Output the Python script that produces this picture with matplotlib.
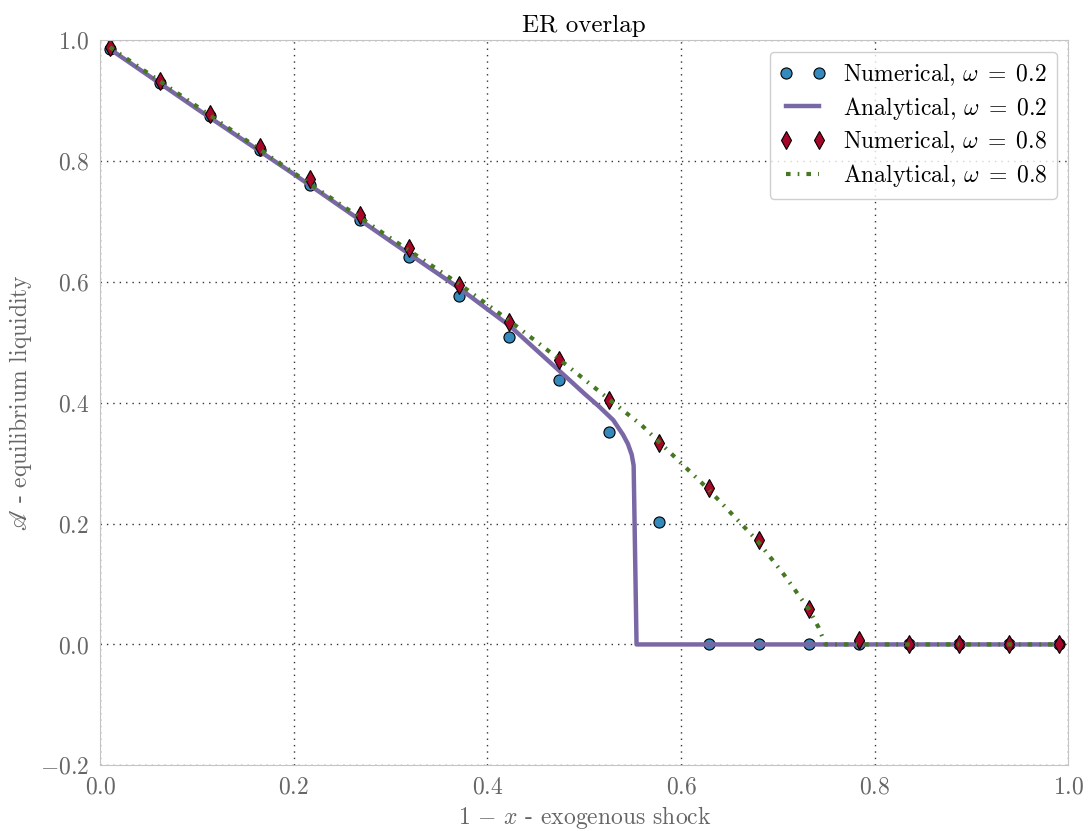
import numpy as np
import matplotlib
matplotlib.use("Agg")
import matplotlib.pyplot as plt

# shock values at which the numerical runs were done
shock = np.linspace(0.01, 0.99, 20)

num_02 = [0.985, 0.929, 0.874, 0.818, 0.760, 0.702, 0.641, 0.576, 0.508, 0.437,
          0.351, 0.202, 0.0, 0.0, 0.0, 0.0, 0.0, 0.0, 0.0, 0.0]
num_08 = [0.988, 0.932, 0.877, 0.823, 0.770, 0.710, 0.656, 0.594, 0.533, 0.470,
          0.404, 0.334, 0.258, 0.172, 0.058, 0.007, 0.0, 0.0, 0.0, 0.0]

# analytical curves
ana_02_x = [0.01, 0.1, 0.2, 0.3, 0.372, 0.423, 0.485, 0.50, 0.515, 0.53, 0.54,
            0.545, 0.549, 0.551, 0.554, 0.99]
ana_02_y = [0.985, 0.886, 0.778, 0.667, 0.588, 0.527, 0.437, 0.415, 0.394, 0.371,
            0.347, 0.332, 0.314, 0.296, 0.0, 0.0]
ana_08_x = [0.01, 0.1, 0.2, 0.3, 0.372, 0.423, 0.474, 0.526, 0.559, 0.628, 0.679,
            0.706, 0.732, 0.742, 0.749, 0.99]
ana_08_y = [0.988, 0.89, 0.78, 0.672, 0.595, 0.535, 0.472, 0.405, 0.363, 0.257,
            0.171, 0.116, 0.058, 0.028, 0.0, 0.0]

plt.rcParams['font.family'] = 'cmr10'
plt.rcParams['mathtext.fontset'] = 'cm'
plt.rcParams['axes.formatter.use_mathtext'] = True
plt.rcParams['axes.unicode_minus'] = True

fig, ax = plt.subplots(figsize=(10.88, 8.31), dpi=100)
fig.subplots_adjust(left=0.092, right=0.982, top=0.952, bottom=0.079)

ax.plot(shock, num_02, 'o', color='#348ABD', markeredgecolor='black',
        markersize=8, markeredgewidth=0.8, label=r'Numerical, $\omega\;=\;0.2$')
ax.plot(ana_02_x, ana_02_y, '-', color='#7A68A6', linewidth=3.2,
        label=r'Analytical, $\omega\;=\;0.2$')
ax.plot(shock, num_08, 'd', color='#A60628', markeredgecolor='black',
        markersize=9, markeredgewidth=0.8, label=r'Numerical, $\omega\;=\;0.8$')
green, = ax.plot(ana_08_x, ana_08_y, '-', color='#467821', linewidth=3,
                 label=r'Analytical, $\omega\;=\;0.8$')
green.set_dashes([1.1, 1.7, 0.4, 1.7])

ax.set_xlim(0, 1)
ax.set_ylim(-0.2, 1.0)
ax.set_xticks(np.arange(0, 1.01, 0.2))
ax.set_yticks(np.arange(-0.2, 1.01, 0.2))

ax.grid(True, linestyle=(0, (1, 3.6)), color='#333333', linewidth=1)
for sp in ax.spines.values():
    sp.set_color('#c4c4c4')
ax.tick_params(length=0, labelsize=17, labelcolor='#666666', pad=8)

ax.set_title('ER overlap', fontsize=18)
ax.set_xlabel(r'$1\,-\,x$ - exogenous shock', fontsize=17, color='#666666')
ax.set_ylabel(r'$\mathscr{A}$ - equilibrium liquidity', fontsize=17,
              color='#666666', math_fontfamily='stix')

leg = ax.legend(loc='upper right', numpoints=2, fontsize=17, fancybox=True,
                handlelength=2.0, handletextpad=0.7, borderpad=0.4,
                labelspacing=0.3)
leg.get_frame().set_edgecolor('#c4c4c4')

fig.savefig('out.png', dpi=100)
